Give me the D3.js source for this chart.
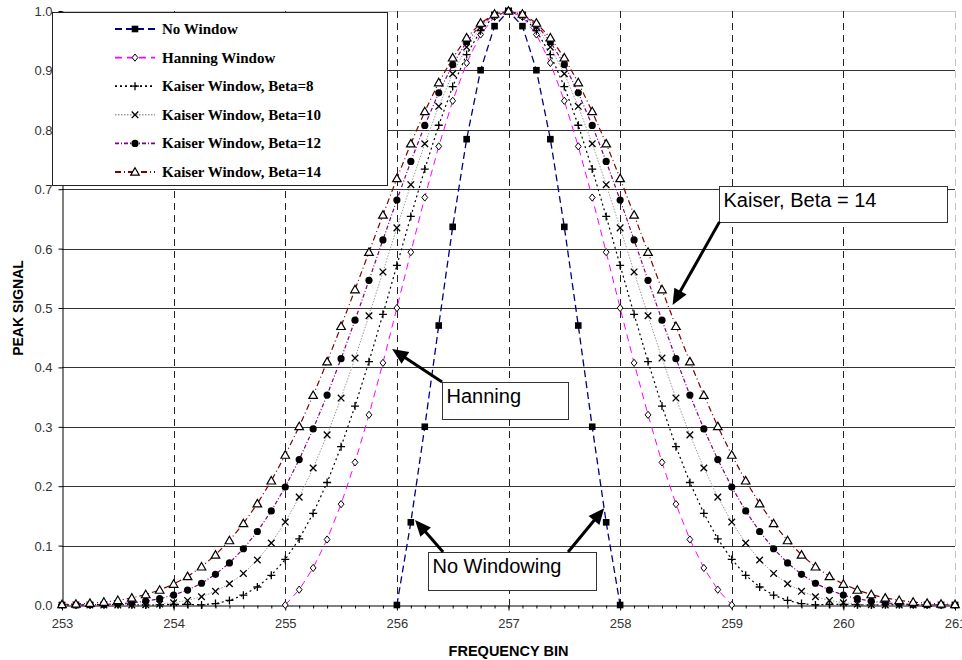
<!DOCTYPE html>
<html>
<head>
<meta charset="utf-8">
<script src="https://cdn.jsdelivr.net/npm/d3@7"></script>
<style>
  body { margin: 0; background: #fff; }
  svg { display: block; font-family: Arial, "Liberation Sans", sans-serif; }
</style>
</head>
<body>
<div id="chart"></div>
<script>
// frequency bins, 1/8 bin apart
const bins = [
  253, 253.125, 253.25, 253.375, 253.5, 253.625, 253.75, 253.875,
  254, 254.125, 254.25, 254.375, 254.5, 254.625, 254.75, 254.875,
  255, 255.125, 255.25, 255.375, 255.5, 255.625, 255.75, 255.875,
  256, 256.125, 256.25, 256.375, 256.5, 256.625, 256.75, 256.875,
  257,
  257.125, 257.25, 257.375, 257.5, 257.625, 257.75, 257.875, 258,
  258.125, 258.25, 258.375, 258.5, 258.625, 258.75, 258.875, 259,
  259.125, 259.25, 259.375, 259.5, 259.625, 259.75, 259.875, 260,
  260.125, 260.25, 260.375, 260.5, 260.625, 260.75, 260.875, 261
];

// 256 .. 258
const noWindow = [
  0.0000, 0.1392, 0.3001, 0.4705, 0.6366, 0.7842, 0.9003, 0.9745,
  1.0000,
  0.9745, 0.9003, 0.7842, 0.6366, 0.4705, 0.3001, 0.1392, 0.0000
];

// 255 .. 259
const hanning = [
  0.0000, 0.0258, 0.0624, 0.1103, 0.1698, 0.2401, 0.3201, 0.4076,
  0.5000, 0.5940, 0.6860, 0.7721, 0.8488, 0.9125, 0.9604, 0.9900,
  1.0000,
  0.9900, 0.9604, 0.9125, 0.8488, 0.7721, 0.6860, 0.5940, 0.5000,
  0.4076, 0.3201, 0.2401, 0.1698, 0.1103, 0.0624, 0.0258, 0.0000
];

// 253 .. 261
const kaiser8 = [
  0.0001, 0.0001, 0.0004, 0.0006, 0.0007, 0.0005, 0.0001, 0.0005,
  0.0010, 0.0011, 0.0002, 0.0024, 0.0077, 0.0166, 0.0303, 0.0500,
  0.0767, 0.1112, 0.1543, 0.2062, 0.2666, 0.3349, 0.4097, 0.4894,
  0.5718, 0.6542, 0.7338, 0.8077, 0.8728, 0.9266, 0.9668, 0.9916,
  1.0000,
  0.9916, 0.9668, 0.9266, 0.8728, 0.8077, 0.7338, 0.6542, 0.5718,
  0.4894, 0.4097, 0.3349, 0.2666, 0.2062, 0.1543, 0.1112, 0.0767,
  0.0500, 0.0303, 0.0166, 0.0077, 0.0024, 0.0002, 0.0011, 0.0010,
  0.0005, 0.0001, 0.0005, 0.0007, 0.0006, 0.0004, 0.0001, 0.0001
];

const kaiser10 = [
  0.0000, 0.0001, 0.0001, 0.0001, 0.0001, 0.0001, 0.0004, 0.0016,
  0.0038, 0.0077, 0.0139, 0.0230, 0.0358, 0.0531, 0.0757, 0.1044,
  0.1396, 0.1816, 0.2306, 0.2864, 0.3484, 0.4157, 0.4870, 0.5607,
  0.6349, 0.7076, 0.7765, 0.8395, 0.8944, 0.9393, 0.9726, 0.9931,
  1.0000,
  0.9931, 0.9726, 0.9393, 0.8944, 0.8395, 0.7765, 0.7076, 0.6349,
  0.5607, 0.4870, 0.4157, 0.3484, 0.2864, 0.2306, 0.1816, 0.1396,
  0.1044, 0.0757, 0.0531, 0.0358, 0.0230, 0.0139, 0.0077, 0.0038,
  0.0016, 0.0004, 0.0001, 0.0001, 0.0001, 0.0001, 0.0001, 0.0000
];

const kaiser12 = [
  0.0000, 0.0001, 0.0003, 0.0009, 0.0019, 0.0036, 0.0064, 0.0106,
  0.0167, 0.0252, 0.0366, 0.0517, 0.0708, 0.0947, 0.1237, 0.1583,
  0.1986, 0.2448, 0.2965, 0.3534, 0.4147, 0.4795, 0.5466, 0.6146,
  0.6818, 0.7467, 0.8074, 0.8623, 0.9097, 0.9483, 0.9767, 0.9941,
  1.0000,
  0.9941, 0.9767, 0.9483, 0.9097, 0.8623, 0.8074, 0.7467, 0.6818,
  0.6146, 0.5466, 0.4795, 0.4147, 0.3534, 0.2965, 0.2448, 0.1986,
  0.1583, 0.1237, 0.0947, 0.0708, 0.0517, 0.0366, 0.0252, 0.0167,
  0.0106, 0.0064, 0.0036, 0.0019, 0.0009, 0.0003, 0.0001, 0.0000
];

const kaiser14 = [
  0.0009, 0.0017, 0.0030, 0.0049, 0.0078, 0.0119, 0.0176, 0.0252,
  0.0352, 0.0481, 0.0643, 0.0843, 0.1085, 0.1372, 0.1706, 0.2091,
  0.2524, 0.3006, 0.3531, 0.4096, 0.4692, 0.5310, 0.5939, 0.6567,
  0.7181, 0.7766, 0.8308, 0.8795, 0.9212, 0.9549, 0.9797, 0.9949,
  1.0000,
  0.9949, 0.9797, 0.9549, 0.9212, 0.8795, 0.8308, 0.7766, 0.7181,
  0.6567, 0.5939, 0.5310, 0.4692, 0.4096, 0.3531, 0.3006, 0.2524,
  0.2091, 0.1706, 0.1372, 0.1085, 0.0843, 0.0643, 0.0481, 0.0352,
  0.0252, 0.0176, 0.0119, 0.0078, 0.0049, 0.0030, 0.0017, 0.0009
];

const seriesNames = ["No Window", "Hanning Window", "Kaiser Window, Beta=8",
                     "Kaiser Window, Beta=10", "Kaiser Window, Beta=12", "Kaiser Window, Beta=14"];
const xTicks = [253, 254, 255, 256, 257, 258, 259, 260, 261];
const yTicks = [0, 0.1, 0.2, 0.3, 0.4, 0.5, 0.6, 0.7, 0.8, 0.9, 1.0];

const width = 962, height = 660;

const svg = d3.select("#chart").append("svg")
    .attr("width", width)
    .attr("height", height);

svg.append("rect").attr("width", width).attr("height", height).attr("fill", "#fff");

const x = d3.scaleLinear().domain([253, 261]).range([62, 955]);
const y = d3.scaleLinear().domain([0, 1]).range([605, 11]);

// grid
const grid = svg.append("g");
grid.selectAll("line.h")
    .data(yTicks.filter(d => d > 0 && d < 1))
    .join("line")
    .attr("x1", x(253)).attr("x2", x(261))
    .attr("y1", d => Math.round(y(d)) + 0.5).attr("y2", d => Math.round(y(d)) + 0.5)
    .attr("stroke", "#333").attr("stroke-width", 1);
grid.append("line")
    .attr("x1", x(253)).attr("x2", x(261))
    .attr("y1", Math.round(y(1)) + 0.5).attr("y2", Math.round(y(1)) + 0.5)
    .attr("stroke", "#c8c8c8");
grid.selectAll("line.v")
    .data(xTicks.filter(d => d > 253))
    .join("line")
    .attr("x1", d => Math.round(x(d)) + 0.5).attr("x2", d => Math.round(x(d)) + 0.5)
    .attr("y1", y(1)).attr("y2", y(0))
    .attr("stroke", d => d === 261 ? "#c0c0c0" : "#222")
    .attr("stroke-dasharray", "7,5");

// axes
const xAxis = svg.append("g")
    .attr("transform", `translate(0,${Math.round(y(0)) + 0.5})`)
    .call(d3.axisBottom(x).tickValues(xTicks).tickSize(5).tickSizeOuter(0).tickPadding(8));
svg.append("g")
    .attr("transform", `translate(0,${Math.round(y(0)) + 0.5})`)
    .call(d3.axisBottom(x).tickValues(bins).tickSize(3).tickSizeOuter(0).tickFormat(""))
    .select(".domain").remove();
const yAxis = svg.append("g")
    .attr("transform", `translate(${Math.round(x(253)) + 0.5},0)`)
    .call(d3.axisLeft(y).tickValues(yTicks).tickFormat(d3.format(".1f")).tickSize(4).tickSizeOuter(0).tickPadding(6));
[xAxis, yAxis].forEach(a => {
  a.selectAll("text").attr("font-size", 13).attr("fill", "#333").attr("font-family", "Arial, 'Liberation Sans', sans-serif");
  a.selectAll("line, path").attr("stroke", "#000");
});
yAxis.selectAll("text").attr("dy", "0.35em");

svg.append("text")
    .attr("x", (x(253) + x(261)) / 2).attr("y", 656)
    .attr("text-anchor", "middle")
    .attr("font-size", 14.5).attr("font-weight", "bold")
    .text("FREQUENCY BIN");
svg.append("text")
    .attr("transform", `translate(23,${(y(0) + y(1)) / 2}) rotate(-90)`)
    .attr("text-anchor", "middle")
    .attr("font-size", 14).attr("font-weight", "bold")
    .text("PEAK SIGNAL");

// series
const series = [
  { name: seriesNames[0], xs: bins.slice(24, 41), ys: noWindow, color: "#000080", dash: "7,4", sw: 1.3, marker: "square" },
  { name: seriesNames[1], xs: bins.slice(16, 49), ys: hanning, color: "#ff00ff", dash: "7,5", sw: 1, marker: "diamond" },
  { name: seriesNames[2], xs: bins, ys: kaiser8, color: "#000000", dash: "2,3", sw: 1.2, marker: "plus" },
  { name: seriesNames[3], xs: bins, ys: kaiser10, color: "#9a9a9a", dash: "1.5,1.5", sw: 1, marker: "cross" },
  { name: seriesNames[4], xs: bins, ys: kaiser12, color: "#800080", dash: "4,2,1,2", sw: 1.2, marker: "circle" },
  { name: seriesNames[5], xs: bins, ys: kaiser14, color: "#800000", dash: "6,3,1,3", sw: 1.2, marker: "triangle" }
];

function addMarker(sel, type) {
  if (type === "square") {
    sel.append("rect").attr("x", -3.3).attr("y", -3.3).attr("width", 6.6).attr("height", 6.6).attr("fill", "#000");
  } else if (type === "diamond") {
    sel.append("path").attr("d", "M0,-3.6L2.9,0L0,3.6L-2.9,0Z").attr("fill", "#fff").attr("stroke", "#000").attr("stroke-width", 1);
  } else if (type === "plus") {
    sel.append("path").attr("d", "M-4,0H4M0,-4V4").attr("stroke", "#000").attr("stroke-width", 1.3);
  } else if (type === "cross") {
    sel.append("path").attr("d", "M-3.3,-3.3L3.3,3.3M-3.3,3.3L3.3,-3.3").attr("stroke", "#000").attr("stroke-width", 1.3);
  } else if (type === "circle") {
    sel.append("circle").attr("r", 3.6).attr("fill", "#000");
  } else if (type === "triangle") {
    sel.append("path").attr("d", "M0,-4.3L4.3,3.2L-4.3,3.2Z").attr("fill", "#fff").attr("stroke", "#000").attr("stroke-width", 1.2);
  }
}

const line = d3.line().x(d => x(d[0])).y(d => y(d[1]));

series.forEach(s => {
  const pts = s.xs.map((b, i) => [b, s.ys[i]]);
  const g = svg.append("g");
  g.append("path")
      .datum(pts)
      .attr("d", line)
      .attr("fill", "none")
      .attr("stroke", s.color)
      .attr("stroke-width", s.sw)
      .attr("stroke-dasharray", s.dash);
  g.selectAll("g.pt")
      .data(pts)
      .join("g")
      .attr("class", "pt")
      .attr("transform", d => `translate(${x(d[0])},${y(d[1])})`)
      .each(function() { addMarker(d3.select(this), s.marker); });
});

// legend
const legend = svg.append("g");
legend.append("rect")
    .attr("x", 52.5).attr("y", 12.5).attr("width", 335).attr("height", 173)
    .attr("fill", "#fff").attr("stroke", "#222");
const rows = legend.selectAll("g.row")
    .data(series)
    .join("g")
    .attr("class", "row")
    .attr("transform", (d, i) => `translate(0,${29 + i * 28.6})`);
rows.append("line")
    .attr("x1", 115).attr("x2", 155)
    .attr("stroke", d => d.color)
    .attr("stroke-width", d => d.sw + 0.6)
    .attr("stroke-dasharray", d => d.dash);
rows.append("g")
    .attr("transform", "translate(135,0)")
    .each(function(d) { addMarker(d3.select(this), d.marker); });
rows.append("text")
    .attr("x", 162).attr("y", 5)
    .attr("font-family", "'Liberation Serif', 'Times New Roman', serif")
    .attr("font-weight", "bold")
    .attr("font-size", 15)
    .text(d => d.name);

// callouts
const annotations = [
  { text: "Kaiser, Beta = 14", x0: 258.89, x1: 260.93, yTop: 0.705, yBot: 0.645,
    arrows: [[258.89, 0.645, 258.47, 0.505]] },
  { text: "Hanning", x0: 256.405, x1: 257.534, yTop: 0.3754, yBot: 0.3131,
    arrows: [[256.405, 0.3754, 255.957, 0.431]] },
  { text: "No Windowing", x0: 256.28, x1: 257.785, yTop: 0.0892, yBot: 0.0253,
    arrows: [[256.414, 0.0892, 256.163, 0.143], [257.534, 0.0892, 257.857, 0.163]] }
];

const ann = svg.append("g");

function arrow(x1, y1, x2, y2) {
  const dx = x2 - x1, dy = y2 - y1, L = Math.hypot(dx, dy);
  const ux = dx / L, uy = dy / L;
  const hl = 16, hw = 7;
  const bx = x2 - ux * hl, by = y2 - uy * hl;
  ann.append("line")
      .attr("x1", x1).attr("y1", y1).attr("x2", bx + ux * 2).attr("y2", by + uy * 2)
      .attr("stroke", "#000").attr("stroke-width", 3);
  ann.append("path")
      .attr("d", `M${x2},${y2}L${bx - uy * hw},${by + ux * hw}L${bx + uy * hw},${by - ux * hw}Z`)
      .attr("fill", "#000");
}

annotations.forEach(a => {
  const bx = Math.round(x(a.x0)) + 0.5, by = Math.round(y(a.yTop)) + 0.5;
  const bw = Math.round(x(a.x1) - x(a.x0)), bh = Math.round(y(a.yBot) - y(a.yTop));
  ann.append("rect")
      .attr("x", bx).attr("y", by).attr("width", bw).attr("height", bh)
      .attr("fill", "#fff").attr("stroke", "#333");
  ann.append("text")
      .attr("x", bx + 4).attr("y", by + 20)
      .attr("font-size", 20)
      .attr("fill", "#000")
      .text(a.text);
  a.arrows.forEach(r => arrow(x(r[0]), y(r[1]), x(r[2]), y(r[3])));
});
</script>
</body>
</html>
